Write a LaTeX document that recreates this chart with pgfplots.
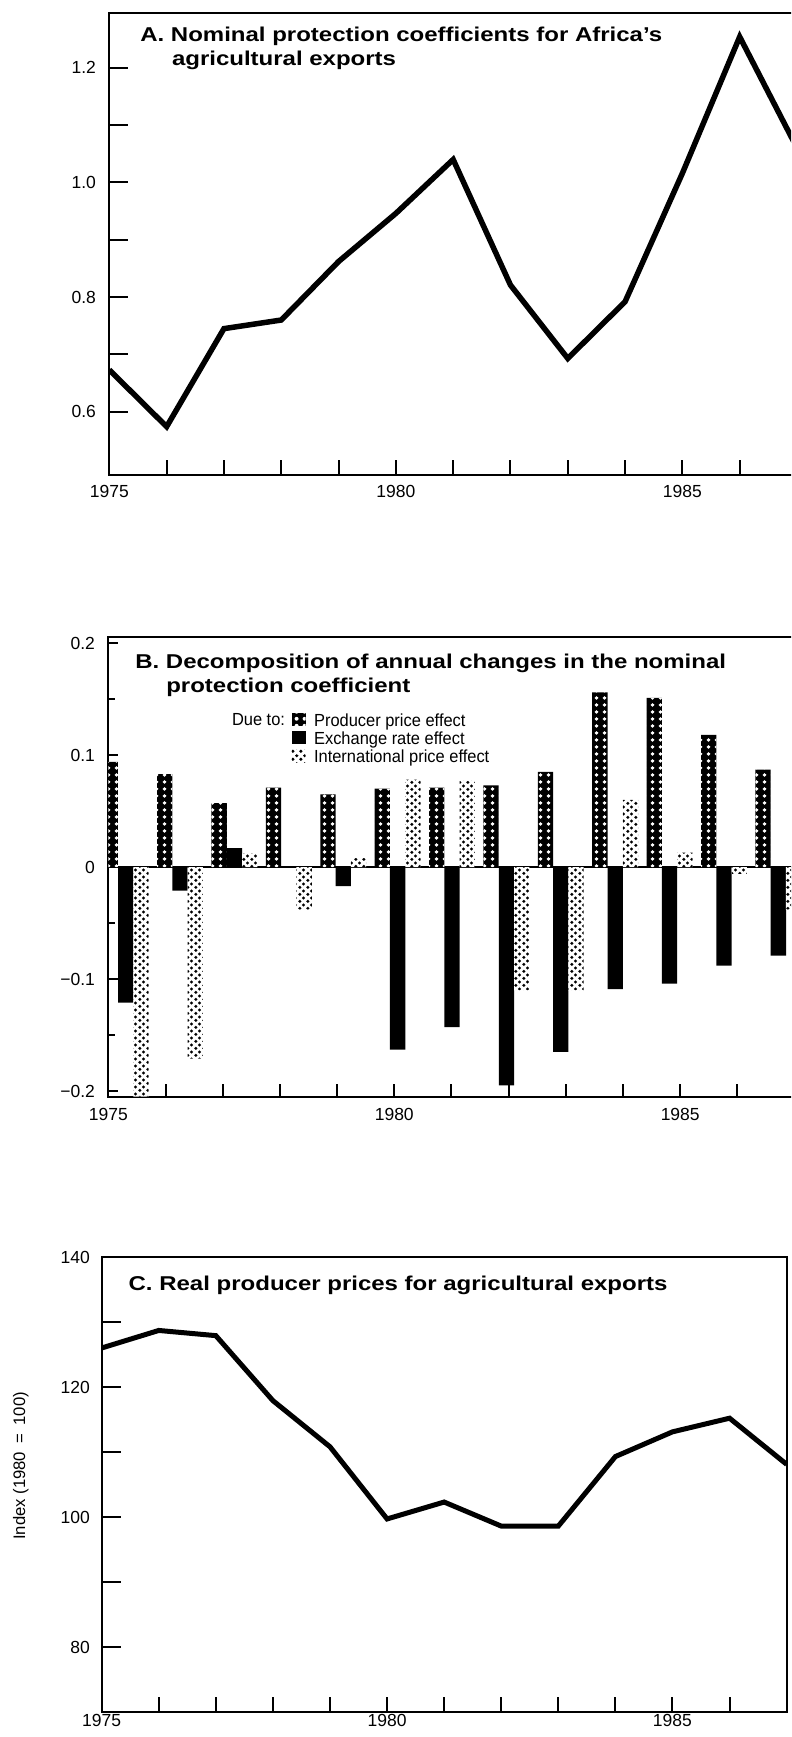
\documentclass[border=0pt]{standalone}
\usepackage{fontspec}
\setmainfont{Liberation Sans}
\usepackage{graphicx}
\usepackage{pgfplots}
\usepackage{pgfplotstable}
\pgfplotsset{compat=1.18}
\usetikzlibrary{patterns}

\pgfdeclarepatternformonly{whitedots}{\pgfqpoint{0pt}{0pt}}{\pgfqpoint{4.5pt}{4.2pt}}{\pgfqpoint{4.5pt}{4.2pt}}{%
  \pgfpathcircle{\pgfqpoint{2.25pt}{2.1pt}}{1.25pt}\pgfusepath{fill}}
\pgfdeclarepatternformonly{blackdots}{\pgfqpoint{0pt}{0pt}}{\pgfqpoint{4.6pt}{4.4pt}}{\pgfqpoint{4.6pt}{4.4pt}}{%
  \pgfpathcircle{\pgfqpoint{1.15pt}{1.1pt}}{1.05pt}\pgfusepath{fill}%
  \pgfpathcircle{\pgfqpoint{3.45pt}{3.3pt}}{1.05pt}\pgfusepath{fill}}

\newcommand\ttl[1]{\scalebox{1.2}[1]{\fontsize{12}{14}\selectfont\bfseries #1}}
\newcommand\lgf{\fontsize{10.5}{12}\selectfont}

\pgfplotstableread{
year npc
1975 0.673
1976 0.574
1977 0.745
1978 0.760
1979 0.862
1980 0.946
1981 1.040
1982 0.821
1983 0.693
1984 0.792
1985 1.016
1986 1.254
1987 1.060
}\npcA

\pgfplotstableread{
x y
1975.035 0.094
1975.986 0.083
1976.937 0.057
1977.888 0.071
1978.839 0.065
1979.790 0.070
1980.741 0.071
1981.692 0.073
1982.643 0.085
1983.594 0.156
1984.545 0.151
1985.496 0.118
1986.447 0.087
}\prodP

\pgfplotstableread{
x y
1975.303 -0.121
1976.254 -0.021
1977.205 0.017
1978.156 0.000
1979.107 -0.017
1980.058 -0.163
1981.009 -0.143
1981.960 -0.195
1982.911 -0.165
1983.862 -0.109
1984.813 -0.104
1985.764 -0.088
1986.715 -0.079
}\exchR

\pgfplotstableread{
x y
1975.570 -0.205
1976.521 -0.171
1977.472 0.012
1978.423 -0.038
1979.374 0.008
1980.325 0.078
1981.276 0.077
1982.227 -0.110
1983.178 -0.110
1984.129 0.060
1985.080 0.013
1986.031 -0.006
1986.982 -0.038
}\intlP

\pgfplotstableread{
year idx
1975 126.0
1976 128.7
1977 127.9
1978 117.9
1979 110.8
1980 99.7
1981 102.3
1982 98.6
1983 98.6
1984 109.3
1985 113.1
1986 115.2
1987 108.1
}\realC

\pgfplotsset{
  panel/.style={
    scale only axis, anchor=south west,
    xmin=1975, xmax=1987,
    axis line style={line width=1.2pt},
    tick style={black, line width=1.2pt},
    tick align=inside,
    xtick pos=bottom, ytick pos=left,
    xtick={1975,...,1987},
    xticklabels={1975,,,,,1980,,,,,1985,,},
    ticklabel style={font=\fontsize{10.5}{12}\selectfont},
    yticklabel style={xshift=-4.5pt},
    /pgf/number format/assume math mode=true,
    major tick length=11.4pt, minor tick length=11.4pt,
    xtick style={/pgfplots/major tick length=9pt},
  },
  swatch/.style={legend image code/.code={\fill[##1] (0pt,0pt) rectangle (8.4pt,8pt); \path (13.4pt,0pt);}},
}

\begin{document}
\begin{tikzpicture}
\useasboundingbox (0,0) rectangle (474.6pt,1042.2pt);
\clip (0,0) rectangle (474.6pt,1042.2pt);

% Panel A
\begin{axis}[panel,
  at={(65.6pt,757.3pt)}, width=412.6pt, height=276.9pt,
  ymin=0.49, ymax=1.295,
  ytick={0.6,0.8,1.0,1.2}, yticklabels={0.6,0.8,1.0,1.2},
  minor ytick={0.7,0.9,1.1},
  xticklabel style={yshift=-2.7pt},
]
\addplot[black, line width=3.3pt, line join=miter] table[x=year,y=npc] {\npcA};
\end{axis}

% Panel B
\begin{axis}[panel,
  at={(65.0pt,384.2pt)}, width=411.8pt, height=275.5pt,
  ymin=-0.205, ymax=0.205,
  ytick={-0.2,-0.1,0,0.1,0.2}, yticklabels={−0.2,−0.1,0,0.1,0.2},
  minor ytick={-0.15,-0.05,0.05,0.15},
  major tick length=6pt, minor tick length=4pt,
  xtick style={/pgfplots/major tick length=7.4pt},
  xticklabel style={yshift=-3.5pt},
  extra y ticks={0}, extra y tick labels={},
  extra y tick style={grid=major, major grid style={black, line width=1.2pt}},
  legend style={at={(axis description cs:0.2672,0.836)}, anchor=north west,
    draw=none, fill=none, inner sep=0pt, outer sep=0pt, row sep=3pt,
    font=\lgf, cells={anchor=base west},
    nodes={inner sep=0pt, text height=8pt, text depth=0pt}},
]
\addplot[ybar, bar width=0.2675, bar shift=0pt, fill=black, draw=none,
  postaction={pattern=whitedots, pattern color=white}, swatch]
  table[x=x,y=y] {\prodP};
\addlegendentry{\scalebox{0.94}[1]{Producer price effect}}
\addplot[ybar, bar width=0.2675, bar shift=0pt, fill=black, draw=none, swatch]
  table[x=x,y=y] {\exchR};
\addlegendentry{\scalebox{0.94}[1]{Exchange rate effect}}
\addplot[ybar, bar width=0.2675, bar shift=0pt, fill=white, draw=none,
  postaction={pattern=blackdots, pattern color=black}, swatch]
  table[x=x,y=y] {\intlP};
\addlegendentry{\scalebox{0.94}[1]{International price effect}}
\end{axis}

% Panel C
\begin{axis}[panel,
  at={(61.0pt,15.0pt)}, width=411pt, height=273pt,
  ymin=70, ymax=140,
  ytick={80,100,120,140}, minor ytick={90,110,130},
  yticklabel style={xshift=1pt},
  xticklabel style={yshift=2.1pt},
  ylabel={Index (1980\hspace{5pt}=\hspace{5pt}100)},
  ylabel style={at={(axis description cs:-0.1182,0.541)}, anchor=center, font=\fontsize{10}{12}\selectfont},
]
\addplot[black, line width=3pt, line join=miter] table[x=year,y=idx] {\realC};
\end{axis}

% Titles
\node[anchor=base west, inner sep=0pt] at (84pt,1017.2pt) {\ttl{A. Nominal protection coefficients for Africa’s}};
\node[anchor=base west, inner sep=0pt] at (103.0pt,1003.0pt) {\ttl{agricultural exports}};
\node[anchor=base west, inner sep=0pt] at (81pt,641.2pt) {\ttl{B. Decomposition of annual changes in the nominal}};
\node[anchor=base west, inner sep=0pt] at (99.6pt,626.6pt) {\ttl{protection coefficient}};
\node[anchor=base west, inner sep=0pt] at (77pt,267.8pt) {\ttl{C. Real producer prices for agricultural exports}};
\node[anchor=base west, inner sep=0pt, font=\lgf] at (139pt,606.6pt) {\scalebox{0.94}[1]{Due to:}};
\end{tikzpicture}
\end{document}
